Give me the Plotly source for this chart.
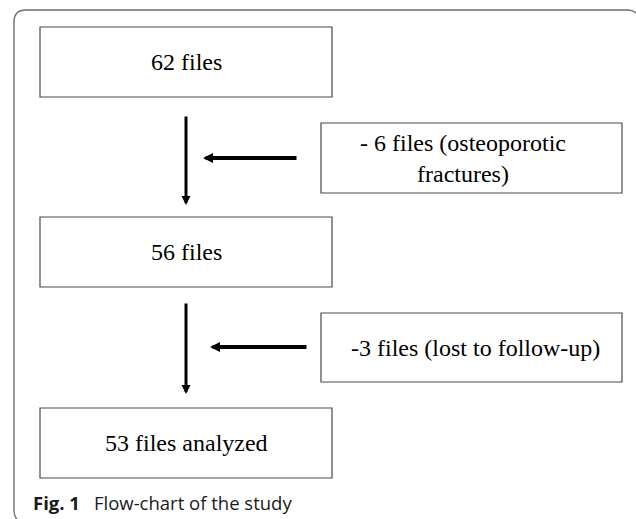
import plotly.graph_objects as go

# ---- content ----
main_labels = ["62 files", "56 files", "53 files analyzed"]
side_labels = ["- 6 files (osteoporotic<br>fractures)", "-3 files (lost to follow-up)"]
caption_bold = "Fig. 1"
caption_text = "Flow-chart of the study"

# ---- layout (pixel space) ----
W, H = 636, 519
main_x = (40, 332)
main_y = [(27, 97), (217, 287), (408, 478)]
side_x = (321, 622)
side_y = [(123, 193), (313, 382)]
side_text_x = [463, 475]
v_arrows = [(186, 115, 205), (186, 302, 394)]      # x, y_tail, y_tip
h_arrows = [(158, 298, 203), (347, 308, 210)]      # y, x_tail, x_tip

fig = go.Figure()
shapes = []
annotations = []

box_line = dict(color="#4a4a4a", width=1.2)
serif = dict(family="Liberation Serif", size=24, color="black")
for (y0, y1), lab in zip(main_y, main_labels):
    shapes.append(dict(type="rect", xref="x", yref="y", x0=main_x[0], x1=main_x[1],
                       y0=y0, y1=y1, line=box_line, fillcolor="white"))
    annotations.append(dict(x=(main_x[0] + main_x[1]) / 2, y=(y0 + y1) / 2, text=lab,
                            showarrow=False, xref="x", yref="y", font=serif))

for (y0, y1), lab, tx in zip(side_y, side_labels, side_text_x):
    shapes.append(dict(type="rect", xref="x", yref="y", x0=side_x[0], x1=side_x[1],
                       y0=y0, y1=y1, line=box_line, fillcolor="white"))
    annotations.append(dict(x=tx, y=(y0 + y1) / 2, text=lab, showarrow=False,
                            xref="x", yref="y", align="center", font=serif))

for x, yt, yh in v_arrows:
    annotations.append(dict(x=x, y=yh, ax=x, ay=yt, xref="x", yref="y", axref="x", ayref="y",
                            text="", showarrow=True, arrowhead=2, arrowsize=0.6,
                            arrowwidth=3, arrowcolor="black", standoff=0))
for y, xt, xh in h_arrows:
    annotations.append(dict(x=xh, y=y, ax=xt, ay=y, xref="x", yref="y", axref="x", ayref="y",
                            text="", showarrow=True, arrowhead=2, arrowsize=0.5,
                            arrowwidth=4, arrowcolor="black", standoff=0))

# outer rounded frame (partially visible)
shapes.append(dict(type="path", xref="x", yref="y",
                   path="M 19,521 Q 14,518 14,510 L 14,22 Q 14,10 26,10 L 628,10 Q 634,10 638,15",
                   line=dict(color="#6e6e6e", width=1.4)))

annotations.append(dict(x=31, y=502, xref="x", yref="y", xanchor="left", yanchor="middle",
                        showarrow=False,
                        text="<b>" + caption_bold + "</b>\u2002 " + caption_text,
                        font=dict(family="Open Sans", size=18.5, color="#1a1a1a")))

fig.update_layout(
    width=W, height=H, margin=dict(l=0, r=0, t=0, b=0),
    paper_bgcolor="white", plot_bgcolor="white",
    xaxis=dict(range=[0, W], visible=False, fixedrange=True),
    yaxis=dict(range=[H, 0], visible=False, fixedrange=True),
    shapes=shapes, annotations=annotations, showlegend=False,
)
fig.write_html("out.html", config={"displayModeBar": False},
               post_script="document.body.style.margin='0';document.body.style.overflow='hidden';")
